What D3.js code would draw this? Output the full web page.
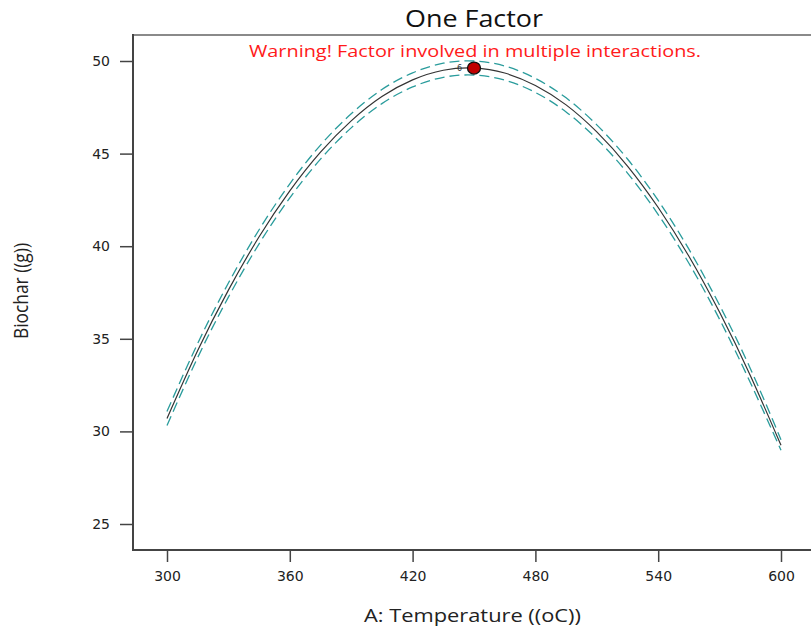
<!DOCTYPE html>
<html>
<head>
<meta charset="utf-8">
<script src="https://cdn.jsdelivr.net/npm/d3@7"></script>
<style>
  body { margin: 0; background: #fff; }
  svg { display: block; }
</style>
</head>
<body>
<div id="chart"></div>
<script>
// temperature (oC) where the curve was read
const temps = [300, 315, 330, 345, 360, 375, 390, 405, 420, 435, 450,
               465, 480, 495, 510, 525, 540, 555, 570, 585, 600]
// predicted biochar (g)
const biochar = [30.70, 34.37, 37.63, 40.51, 42.99, 45.08, 46.77, 48.08, 48.98, 49.50, 49.62,
                 49.35, 48.68, 47.63, 46.17, 44.33, 42.09, 39.46, 36.43, 33.02, 29.25]
// 95% confidence band
const upperCI = [31.08, 34.75, 38.01, 40.89, 43.37, 45.46, 47.15, 48.46, 49.36, 49.88, 50.00,
                 49.73, 49.06, 48.01, 46.55, 44.71, 42.47, 39.84, 36.81, 33.40, 29.55]
const lowerCI = [30.32, 33.99, 37.25, 40.13, 42.61, 44.70, 46.39, 47.70, 48.60, 49.12, 49.24,
                 48.97, 48.30, 47.25, 45.79, 43.95, 41.71, 39.08, 36.05, 32.64, 28.98]
// design point
const designX = [450]
const designY = [49.62]
const designLabel = ['6']

const xTicks = [300, 360, 420, 480, 540, 600]
const yTicks = [25, 30, 35, 40, 45, 50]

const W = 811, H = 628
const margin = { top: 35, right: 0, bottom: 78, left: 133 }
const LABEL_FONT = "'Open Sans', 'Noto Sans', sans-serif"

const svg = d3.select('#chart').append('svg')
  .attr('width', W).attr('height', H)
  .style('font-family', "'DejaVu Sans', Verdana, sans-serif")

const x = d3.scaleLinear().domain([300, 600]).range([167, 781])
const y = d3.scaleLinear().domain([25, 50]).range([524, 61])

const plotBottom = H - margin.bottom  // 550

// frame: top and bottom lines run off the right edge
svg.append('line')
  .attr('x1', margin.left).attr('x2', W + 5)
  .attr('y1', margin.top).attr('y2', margin.top)
  .attr('stroke', '#8a8a8a').attr('stroke-width', 2)

const data = temps.map((t, i) => ({ t, m: biochar[i], u: upperCI[i], l: lowerCI[i] }))

const line = key => d3.line()
  .x(d => x(d.t))
  .y(d => y(d[key]))
  .curve(d3.curveNatural)

svg.append('path').datum(data)
  .attr('d', line('u'))
  .attr('fill', 'none').attr('stroke', '#2a9c9c').attr('stroke-width', 1.3)
  .attr('stroke-dasharray', '10,5')
svg.append('path').datum(data)
  .attr('d', line('l'))
  .attr('fill', 'none').attr('stroke', '#2a9c9c').attr('stroke-width', 1.3)
  .attr('stroke-dasharray', '10,5')
svg.append('path').datum(data)
  .attr('d', line('m'))
  .attr('fill', 'none').attr('stroke', '#333').attr('stroke-width', 1.2)

// axes
const xAxis = svg.append('g')
  .attr('transform', `translate(0,${plotBottom})`)
  .call(d3.axisBottom(x).tickValues(xTicks).tickSize(12).tickSizeOuter(0))
xAxis.select('.domain').remove()
xAxis.append('line')
  .attr('x1', margin.left).attr('x2', W + 5)
  .attr('stroke', '#444').attr('stroke-width', 2)

const yAxis = svg.append('g')
  .attr('transform', `translate(${margin.left},0)`)
  .call(d3.axisLeft(y).tickValues(yTicks).tickSize(13).tickSizeOuter(0).tickPadding(10))
yAxis.select('.domain').remove()
yAxis.append('line')
  .attr('y1', margin.top - 1).attr('y2', plotBottom + 1)
  .attr('stroke', '#444').attr('stroke-width', 2)

;[xAxis, yAxis].forEach(g => {
  g.selectAll('.tick line').attr('stroke', '#444').attr('stroke-width', 1.5)
  g.selectAll('.tick text')
    .attr('fill', '#222')
    .attr('font-size', '14px')
    .attr('font-family', "'DejaVu Sans', Verdana, sans-serif")
})
xAxis.selectAll('.tick text').attr('y', 31).attr('dy', null)

// design point
svg.selectAll('.pt').data(designX).join('ellipse')
  .attr('class', 'pt')
  .attr('cx', d => x(d)).attr('cy', (d, i) => y(designY[i]))
  .attr('rx', 6.5).attr('ry', 6)
  .attr('fill', '#c00000').attr('stroke', '#111').attr('stroke-width', 1.3)
svg.selectAll('.ptlab').data(designX).join('text')
  .attr('class', 'ptlab')
  .attr('x', d => x(d) - 17).attr('y', (d, i) => y(designY[i]) + 3)
  .attr('font-size', '8px').attr('fill', '#333')
  .text((d, i) => designLabel[i])

// texts (the reference renders its labels horizontally widened)
svg.append('text')
  .attr('x', 405).attr('y', 27)
  .attr('textLength', 138).attr('lengthAdjust', 'spacingAndGlyphs')
  .attr('font-size', '23px').attr('fill', '#111')
  .style('font-family', LABEL_FONT)
  .text('One Factor')

svg.append('text')
  .attr('x', 249).attr('y', 57)
  .attr('textLength', 452).attr('lengthAdjust', 'spacingAndGlyphs')
  .attr('font-size', '17px').attr('fill', '#ff1a1a')
  .style('font-family', LABEL_FONT)
  .text('Warning! Factor involved in multiple interactions.')

svg.append('text')
  .attr('x', 364).attr('y', 622)
  .attr('textLength', 217).attr('lengthAdjust', 'spacingAndGlyphs')
  .attr('font-size', '18px').attr('fill', '#222')
  .style('font-family', LABEL_FONT)
  .text('A: Temperature ((oC))')

svg.append('text')
  .attr('transform', 'translate(28,339) rotate(-90)')
  .attr('textLength', 96).attr('lengthAdjust', 'spacingAndGlyphs')
  .attr('font-size', '20px').attr('fill', '#222')
  .style('font-family', LABEL_FONT)
  .text('Biochar ((g))')
</script>
</body>
</html>
